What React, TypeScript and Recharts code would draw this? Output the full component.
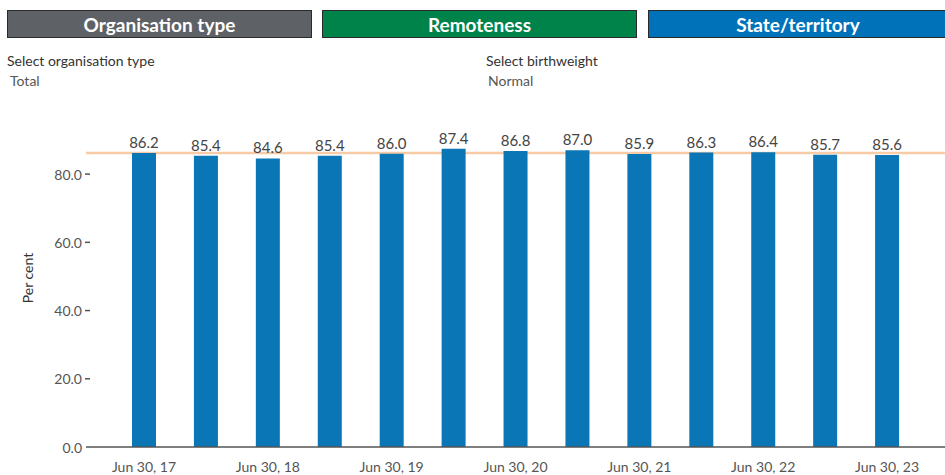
import React from 'react';
import { BarChart, Bar, XAxis, YAxis, ReferenceLine, LabelList } from 'recharts';

const periods = [
  'Jun 30, 17', 'Dec 31, 17', 'Jun 30, 18', 'Dec 31, 18', 'Jun 30, 19', 'Dec 31, 19',
  'Jun 30, 20', 'Dec 31, 20', 'Jun 30, 21', 'Dec 31, 21', 'Jun 30, 22', 'Dec 31, 22', 'Jun 30, 23',
];
const perCent = [86.2, 85.4, 84.6, 85.4, 86.0, 87.4, 86.8, 87.0, 85.9, 86.3, 86.4, 85.7, 85.6];
const referenceValue = 86.2;
const yTicks = [0, 20, 40, 60, 80];

const tabs = [
  { label: 'Organisation type', left: 7, width: 305, bg: '#5E6266' },
  { label: 'Remoteness', left: 322, width: 315, bg: '#00834A' },
  { label: 'State/territory', left: 648, width: 300, bg: '#0072BA' },
];

const data = periods.map((p, i) => ({ period: p, value: perCent[i] }));

const font = 'Lato, "Open Sans", sans-serif';

const YTick = (props: any) => {
  const { x, y, payload } = props;
  return (
    <g>
      <text x={x} y={y} textAnchor="end" dominantBaseline="central" fontSize={14} fill="#555" fontFamily={font}>
        {Number(payload.value).toFixed(1)}
      </text>
      {payload.value !== 0 && <line x1={x + 3} x2={x + 8} y1={y} y2={y} stroke="#555" strokeWidth={1.5} />}
    </g>
  );
};

const App = () => {
  return (
    <div style={{ position: 'absolute', left: 0, top: 0, width: 945, height: 475, background: '#fff', overflow: 'hidden', fontFamily: font }}>
      {tabs.map(t => (
        <div
          key={t.label}
          style={{
            position: 'absolute', left: t.left, top: 10, width: t.width, height: 28, boxSizing: 'border-box',
            background: t.bg, border: '1px solid #2a2a2a', color: '#fff', fontWeight: 700, fontSize: 19,
            display: 'flex', alignItems: 'center', justifyContent: 'center', fontFamily: font,
          }}
        >
          {t.label}
        </div>
      ))}
      <div style={{ position: 'absolute', left: 7, top: 52, fontSize: 14, color: '#333' }}>Select organisation type</div>
      <div style={{ position: 'absolute', left: 10, top: 72, fontSize: 14, color: '#555' }}>Total</div>
      <div style={{ position: 'absolute', left: 486, top: 52, fontSize: 14, color: '#333' }}>Select birthweight</div>
      <div style={{ position: 'absolute', left: 488, top: 72, fontSize: 14, color: '#555' }}>Normal</div>

      <div style={{ position: 'absolute', left: 0, top: 0 }}>
        <BarChart width={945} height={475} data={data} margin={{ top: 140, right: 0, left: 0, bottom: 0 }}>
          <XAxis
            dataKey="period"
            height={28}
            interval={1}
            tickLine={false}
            tickMargin={9}
            padding={{ left: 27, right: 27 }}
            axisLine={{ stroke: '#555', strokeWidth: 1.5 }}
            tick={{ fontSize: 14, fill: '#555', fontFamily: font }}
          />
          <YAxis
            width={86}
            domain={[0, 90]}
            ticks={yTicks}
            axisLine={false}
            tickLine={false}
            tickSize={0}
            tickMargin={4}
            tick={<YTick />}
            label={{
              content: () => (
                <text x={27} y={278} transform="rotate(-90 27 278)" textAnchor="middle" dominantBaseline="central" fontSize={14} fill="#333" fontFamily={font}>
                  Per cent
                </text>
              ),
            }}
          />
          <ReferenceLine y={referenceValue} stroke="#F7CBA6" strokeWidth={2.5} zIndex={100} />
          <Bar dataKey="value" fill="#0B76B6" barSize={24} isAnimationActive={false}>
            <LabelList
              dataKey="value"
              position="top"
              formatter={(v: any) => Number(v).toFixed(1)}
              style={{ fontSize: 15, fill: '#444', fontFamily: font }}
            />
          </Bar>
        </BarChart>
      </div>
    </div>
  );
};

export default App;
